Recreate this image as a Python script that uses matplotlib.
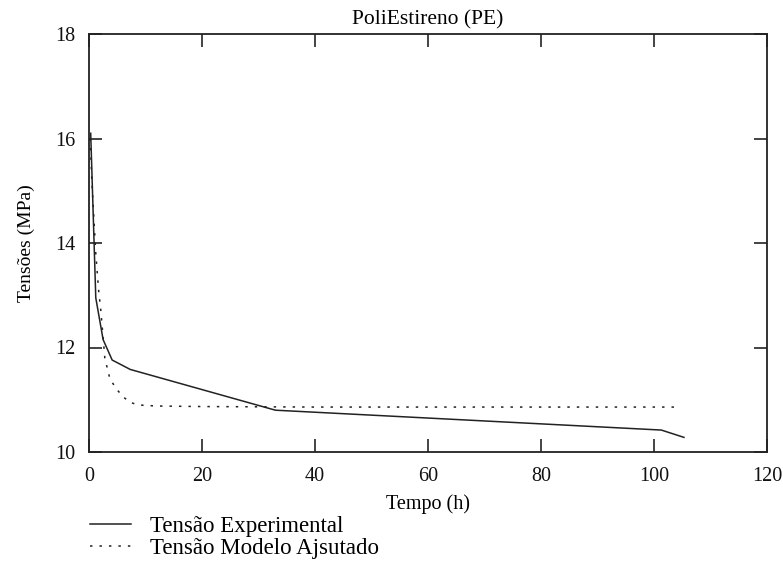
import matplotlib
matplotlib.use("Agg")
import matplotlib.pyplot as plt

plt.rcParams['font.family'] = ['Liberation Serif', 'DejaVu Serif']

# Tensão experimental
t_exp = [0.3, 1.2, 2.5, 4.1, 7.3, 33.0, 101.3, 105.3]
s_exp = [16.1, 12.95, 12.15, 11.76, 11.58, 10.8, 10.42, 10.28]

# Tensão modelo ajustado
t_mod = [0.2, 0.5, 0.8, 1.2, 1.7, 2.1, 2.8, 3.7, 4.9, 6.1, 7.3, 8.7, 12, 20, 40, 104.5]
s_mod = [16.0, 15.2, 14.6, 13.8, 13.1, 12.7, 11.8, 11.4, 11.2, 11.05, 10.95, 10.9, 10.88, 10.87, 10.86, 10.86]

xticks = [0, 20, 40, 60, 80, 100, 120]
yticks = [10, 12, 14, 16, 18]

fig = plt.figure(figsize=(7.83, 5.62), dpi=100)
ax = fig.add_axes([89/783, 1-452/562, (767-89)/783, (452-34)/562])

ax.plot(t_exp, s_exp, color='#222222', lw=1.1, label='Tensão Experimental')
ax.plot(t_mod, s_mod, color='#222222', lw=1.1, linestyle=(0, (1.6, 4.6)),
        label='Tensão Modelo Ajsutado')

ax.set_xlim(0, 120)
ax.set_ylim(10, 18)
ax.set_xticks(xticks)
ax.set_yticks(yticks)
ax.tick_params(direction='in', length=9.5, width=1.1, top=True, right=True,
               labelsize=14.5, colors='#111111')
ax.tick_params(axis='x', pad=10.5)
ax.tick_params(axis='y', pad=9.5)
for sp in ax.spines.values():
    sp.set_linewidth(1.3)
    sp.set_color('#222222')

ax.set_title('PoliEstireno (PE)', fontsize=15.5, pad=7)
ax.set_xlabel('Tempo (h)', fontsize=14.5, labelpad=6)
ax.set_ylabel('Tensões (MPa)', fontsize=14, labelpad=15)

fig.legend(loc='lower left', bbox_to_anchor=(74/783, -13/562), frameon=False,
           fontsize=16.5, handlelength=1.8, handletextpad=0.8,
           labelspacing=0.02, borderpad=0.2)

fig.savefig('out.png', dpi=100)
